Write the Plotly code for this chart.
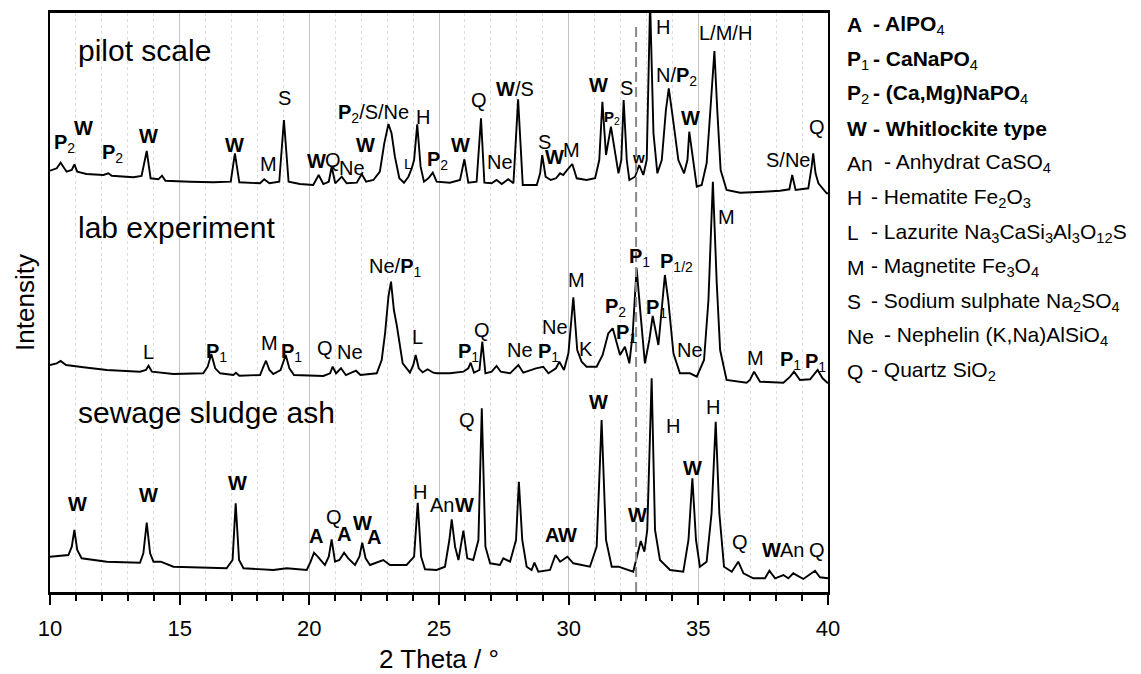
import numpy as np
import plotly.graph_objects as go

# ---------------- data ----------------
two_theta_pilot = [10.00,10.26,10.41,10.54,10.64,10.84,10.94,11.05,11.41,12.06,12.25,12.38,13.21,13.53,13.73,13.88,14.18,14.32,14.45,15.40,
    16.30,16.97,17.13,17.30,18.10,18.26,18.46,18.84,19.02,19.20,19.64,20.15,20.36,20.54,20.75,20.86,21.00,21.25,21.44,21.83,
    22.02,22.19,22.47,22.72,22.89,23.05,23.17,23.30,23.47,23.65,23.82,23.95,24.04,24.16,24.29,24.42,24.59,24.76,24.91,25.42,
    25.81,25.98,26.13,26.45,26.62,26.75,27.03,27.22,27.42,27.67,27.87,28.05,28.23,28.77,28.90,28.98,29.11,29.31,29.51,29.67,
    29.79,29.92,30.14,30.31,30.69,31.02,31.18,31.30,31.44,31.63,31.79,31.92,32.03,32.12,32.24,32.34,32.56,32.72,32.88,33.01,
    33.14,33.27,33.42,33.59,33.75,33.86,34.01,34.23,34.45,34.58,34.65,34.78,34.94,35.13,35.32,35.42,35.62,35.73,35.86,36.09,
    36.61,37.51,38.15,38.51,38.62,38.75,39.24,39.37,39.43,39.52,39.63,39.95,40.00]
intensity_pilot = [21.3,23.7,29.3,23.7,20.3,22,27.7,20.3,18,17,18.7,16.3,14.7,16,41,13.7,12.7,16.3,11.3,10.3,
    9.7,10.3,38.7,9.7,8.7,12.7,8.7,10.3,72,10.3,8,7,17,8,10.3,25.3,8.7,15.3,8.7,9.3,
    18,10.3,12,20.3,48.7,68,58.7,35.3,13.7,9.3,15.3,23.7,32,67.7,25.3,10.3,13.7,19.3,10.3,9.3,
    12,32.7,9.3,10.3,73.7,9.3,8.7,12,8,12.7,8.7,92.7,7,7,18.7,37,15.3,12,13.7,18.7,
    17,21.3,28,13.7,12,13.7,32,90.3,37,65.3,38.7,18.7,32,92,32,12,15.3,27,17,32,
    190,58.7,18.7,32,82,103.7,75.3,32,18.7,32,60.3,35.3,5.3,7,28.7,65.3,141,82,22,2,
    -0.7,0.3,1.3,2.7,17,2,3.7,25.3,38.7,18.7,8.7,-1.3,-1.3]

two_theta_lab = [10.00,10.26,10.41,10.62,11.29,12.19,13.47,13.70,13.80,13.93,14.76,15.91,16.08,16.22,16.37,16.56,17.07,17.17,17.30,18.10,
    18.23,18.33,18.46,18.61,18.89,19.09,19.23,19.41,20.54,20.80,20.90,21.03,21.22,21.41,21.80,21.97,22.60,22.79,22.92,23.05,
    23.15,23.26,23.37,23.47,23.60,23.88,24.01,24.10,24.22,24.37,24.56,24.78,24.91,25.42,25.94,26.13,26.22,26.35,26.56,26.67,
    26.79,27.03,27.22,27.38,27.74,28.06,28.25,28.74,29.02,29.22,29.51,29.64,29.82,29.99,30.18,30.33,30.50,30.69,31.08,31.31,
    31.53,31.70,31.83,31.98,32.17,32.34,32.47,32.62,32.78,32.94,33.11,33.24,33.46,33.59,33.71,33.84,34.04,34.29,34.68,34.94,
    35.22,35.39,35.56,35.71,35.84,36.09,36.86,36.99,37.15,37.38,38.28,38.54,38.69,38.92,39.31,39.60,39.79,40.00]
intensity_lab = [27,28.7,31,27,24.7,22,20.3,22,26.3,20.3,18,18.7,25.3,38,23.7,18.7,17,19.3,16.3,17,
    25.3,31.3,22,18,22,37,23.7,17,16,18.7,25.3,18.7,23.7,17,21.3,17,18.7,32,58.7,95.3,
    110.3,82,67,52,28.7,19.3,27,37,23.7,19.7,22.7,19.3,18.7,18.7,20.3,23.7,29.3,19.3,22,50.3,
    18.7,20.3,26,20.3,18.7,27,19.3,23.7,25.3,18.7,23.7,30.3,22,38.7,94.7,42,30.3,25.3,25.3,37,
    58.7,63.7,52,37,45.3,28.7,58.7,123.7,75.3,28.7,52,76,47,82,117,92,38.7,18.7,18.7,15.3,
    32,92,210.3,108.7,42,12,9.3,12,20.3,10.3,9.3,15.3,20.3,12,12.7,22,13.7,8.7]

two_theta_ash = [10.00,10.71,10.84,10.94,11.05,11.22,12.19,13.47,13.60,13.73,13.86,13.99,14.27,14.76,16.81,17.04,17.16,17.29,17.46,18.61,
    19.13,19.90,20.05,20.18,20.35,20.45,20.60,20.75,20.86,20.99,21.16,21.34,21.50,21.76,21.93,22.04,22.17,22.34,22.85,23.11,
    23.75,24.04,24.18,24.31,24.46,24.91,25.23,25.40,25.49,25.62,25.75,25.94,26.09,26.32,26.52,26.65,26.79,26.97,27.35,27.48,
    27.74,27.97,28.08,28.21,28.38,28.57,28.68,28.83,29.28,29.49,29.67,29.95,30.18,30.82,31.08,31.27,31.44,31.66,31.92,32.49,
    32.69,32.78,32.92,33.03,33.20,33.33,33.52,33.91,34.42,34.62,34.77,34.91,35.06,35.32,35.51,35.67,35.81,35.99,36.29,36.54,
    36.74,37.12,37.57,37.74,37.96,38.28,38.47,38.66,39.05,39.50,39.69,40.00]
intensity_ash = [35.3,37,45.3,62,42,33.7,30.3,29.3,38.7,69.3,38.7,30.3,30.3,25.3,23.7,32,88.7,32,23.7,22,
    23.7,22,30.3,39.3,34.7,32,27,35.3,52.7,30.3,32,39.3,33.7,27,35.3,49.3,33.7,27,32,27,
    27,35.3,89.3,35.3,22.7,22,25.3,52,72.7,45.3,32,61.3,33.7,32,52,183.7,45.3,28.7,27,33.7,
    30.3,52,110.3,52,25.3,22,29.3,20.3,22,37,30.3,35.3,28.7,25.3,45.3,172,52,25.3,25.3,20.3,
    42,51,40.3,62,213.7,62,32,22,20.3,52,113.7,52,25.3,30.3,78.7,170.3,78.7,25.3,20.3,30.3,
    18.7,13.7,13.7,21.3,13.7,17,13.7,18.7,13,21.3,14.7,13.7]

series_names = ["pilot scale", "lab experiment", "sewage sludge ash"]
series_offsets = [400, 200, 0]
reference_line_2theta = 32.6

# peak labels: text, 2theta, height
labels_pilot = [("<b>P</b><sub>2</sub>",10.55,449),("<b>W</b>",11.28,464),("<b>P</b><sub>2</sub>",12.42,439),
    ("<b>W</b>",13.79,456),("<b>W</b>",17.10,447),("M",18.42,428),("S",19.06,494),("<b>W</b>",20.28,431),
    ("Q",20.93,432),("Ne",21.63,424),("<b>W</b>",22.15,447),("<b>P</b><sub>2</sub>/S/Ne",22.47,479),
    ("H",24.40,475),("<b>P</b><sub>2</sub>",24.95,432),("<b>W</b>",25.81,447),("Q",26.56,492),
    ("Ne",27.35,430),("<b>W</b>/S",27.93,503),("S",29.05,450),("<b>W</b>",29.47,435),("M",30.12,442),
    ("<b>W</b>",31.15,507),("S",32.24,504),("H",33.65,565),("N/<b>P</b><sub>2</sub>",34.16,516),
    ("<b>W</b>",34.68,474),("L/M/H",36.03,559),("S/Ne",38.47,432),("Q",39.57,465)]
labels_pilot_small = [("L",23.79,429),("<b>P</b><sub>2</sub>",31.66,475),("<b>w</b>",32.69,435)]
labels_lab = [("L",13.79,240),("<b>P</b><sub>1</sub>",16.43,240),("M",18.46,249),("<b>P</b><sub>1</sub>",19.32,240),
    ("Q",20.60,244),("Ne",21.57,240),("Ne/<b>P</b><sub>1</sub>",23.30,325),("L",24.18,255),
    ("<b>P</b><sub>1</sub>",26.13,240),("Q",26.65,262),("Ne",28.12,242),("<b>P</b><sub>1</sub>",29.22,240),
    ("Ne",29.47,265),("M",30.31,312),("K",30.67,243),("<b>P</b><sub>2</sub>",31.79,285),
    ("<b>P</b><sub>1</sub>",32.24,259),("<b>P</b><sub>1</sub>",32.75,335),("<b>P</b><sub>1</sub>",33.40,284),
    ("<b>P</b><sub>1/2</sub>",34.17,330),("Ne",34.68,242),("M",36.09,375),("M",37.19,234),
    ("<b>P</b><sub>1</sub>",38.54,232),("<b>P</b><sub>1</sub>",39.50,230)]
labels_ash = [("<b>W</b>",11.07,88),("<b>W</b>",13.79,97),("<b>W</b>",17.22,109),("<b>A</b>",20.26,56),
    ("Q",20.95,75),("<b>A</b>",21.34,58),("<b>W</b>",22.05,69),("<b>A</b>",22.51,55),("H",24.27,100),
    ("An",25.10,87),("<b>W</b>",26.00,87),("Q",26.09,172),("<b>A</b>",29.35,57),("<b>W</b>",29.95,57),
    ("<b>W</b>",31.15,190),("<b>W</b>",32.65,77),("H",34.04,166),("<b>W</b>",34.77,124),("H",35.58,185),
    ("Q",36.61,50),("<b>W</b>",37.83,42),("An",38.60,42),("Q",39.57,42)]

legend_symbols = ["<b>A</b>", "<b>P</b><sub>1</sub>", "<b>P</b><sub>2</sub>", "<b>W</b>", "An", "H", "L", "M", "S", "Ne", "Q"]
legend_texts = ["<b>- AlPO</b><sub>4</sub>", "<b>- CaNaPO</b><sub>4</sub>", "<b>- (Ca,Mg)NaPO</b><sub>4</sub>",
    "<b>- Whitlockite type</b>", "- Anhydrat CaSO<sub>4</sub>", "- Hematite Fe<sub>2</sub>O<sub>3</sub>",
    "- Lazurite Na<sub>3</sub>CaSi<sub>3</sub>Al<sub>3</sub>O<sub>12</sub>S", "- Magnetite Fe<sub>3</sub>O<sub>4</sub>",
    "- Sodium sulphate Na<sub>2</sub>SO<sub>4</sub>", "- Nephelin (K,Na)AlSiO<sub>4</sub>", "- Quartz SiO<sub>2</sub>"]

# ---------------- figure ----------------
FONT = "Liberation Sans, Arial, Helvetica, sans-serif"
fig = go.Figure()
series_x = [two_theta_pilot, two_theta_lab, two_theta_ash]
series_y = [intensity_pilot, intensity_lab, intensity_ash]
for name, xs, ys, off in zip(series_names, series_x, series_y, series_offsets):
    assert len(xs) == len(ys), name
    fig.add_trace(go.Scatter(x=xs, y=np.array(ys) + off, mode="lines", name=name,
                             line=dict(color="black", width=1.9), showlegend=False))

ann = []
for name, off, ytxt in zip(series_names, series_offsets, [142, 165, 180]):
    ann.append(dict(x=11.0, y=off + ytxt, text=name, xanchor="left", yanchor="middle",
                    showarrow=False, font=dict(size=30, color="black", family=FONT)))
for lst, size in [(labels_pilot, 20), (labels_pilot_small, 15), (labels_lab, 20), (labels_ash, 20)]:
    for t, x, y in lst:
        ann.append(dict(x=x, y=y, text=t, showarrow=False, xanchor="center", yanchor="middle",
                        font=dict(size=size, color="black", family=FONT)))

# legend block (text, right of plot)
Y0, DY, H = 25, 34.6, 579.0
for i, (s, t) in enumerate(zip(legend_symbols, legend_texts)):
    Y = Y0 + DY * i
    yp = (592 - Y) / H
    if s in ("An", "Ne"):
        dash_x = 882
    elif i < 4:
        dash_x = 871
    else:
        dash_x = 869
    ann.append(dict(xref="paper", yref="paper", x=(845 - 50) / 778, y=yp, text=s, showarrow=False,
                    xanchor="left", yanchor="middle", font=dict(size=21, color="black", family=FONT)))
    ann.append(dict(xref="paper", yref="paper", x=(dash_x - 50) / 778, y=yp, text=t, showarrow=False,
                    xanchor="left", yanchor="middle", font=dict(size=21, color="black", family=FONT)))

fig.update_layout(annotations=ann)
fig.add_shape(type="line", x0=reference_line_2theta, x1=reference_line_2theta, y0=0, y1=570,
              line=dict(color="#8a8a8a", width=2, dash="10px,5px"), layer="above")

fig.update_layout(
    width=1141, height=674, autosize=False,
    margin=dict(l=50, r=313, t=13, b=82),
    paper_bgcolor="white", plot_bgcolor="white",
    font=dict(family=FONT, color="black"),
    xaxis=dict(range=[10, 40], tick0=10, dtick=5, ticks="outside", ticklen=10, tickwidth=2, tickcolor="black",
               showline=True, linewidth=2.5, linecolor="black", mirror=True, zeroline=False,
               showgrid=True, gridcolor="#c4c4c4", gridwidth=1.3, automargin=False,
               tickfont=dict(size=22, family=FONT), ticklabelstandoff=5,
               title=dict(text="2 Theta / °", font=dict(size=26, family=FONT), standoff=14),
               minor=dict(dtick=1, ticks="outside", ticklen=6, tickwidth=1.5, tickcolor="black",
                          showgrid=True, gridcolor="#dddddd", griddash="dot", gridwidth=1)),
    yaxis=dict(range=[0, 579], showticklabels=False, ticks="", showgrid=False, zeroline=False,
               showline=True, linewidth=2, linecolor="black", mirror=True,
               title=dict(text="Intensity", font=dict(size=26, family=FONT), standoff=6)),
)

fig.write_html("out.html", config={"displayModeBar": False},
               post_script="document.body.style.margin='0';")
